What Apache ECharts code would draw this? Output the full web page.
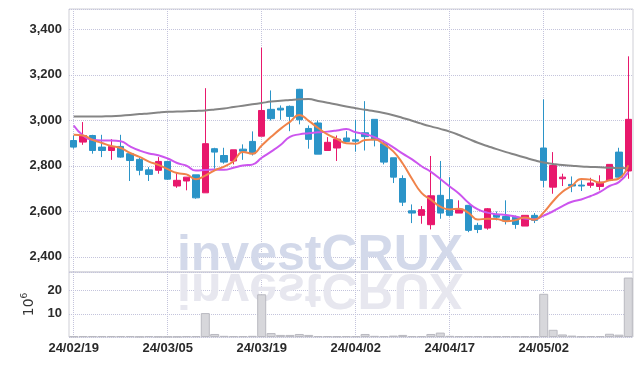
<!DOCTYPE html>
<html>
<head>
<meta charset="utf-8">
<script src="https://cdn.jsdelivr.net/npm/echarts@6/dist/echarts.min.js"></script>
<style>
html,body{margin:0;padding:0;background:#fff;}
#c{width:642px;height:366px;}
</style>
</head>
<body>
<div id="c"></div>
<script>
// Trading dates (categories)
const dates = [
'24/02/19','24/02/20','24/02/21','24/02/22','24/02/23','24/02/26','24/02/27','24/02/28','24/02/29','24/03/04',
'24/03/05','24/03/06','24/03/07','24/03/08','24/03/11','24/03/12','24/03/13','24/03/14','24/03/15','24/03/18',
'24/03/19','24/03/20','24/03/21','24/03/22','24/03/25','24/03/26','24/03/27','24/03/28','24/03/29','24/04/01',
'24/04/02','24/04/03','24/04/04','24/04/05','24/04/08','24/04/09','24/04/11','24/04/12','24/04/15','24/04/16',
'24/04/17','24/04/18','24/04/19','24/04/22','24/04/23','24/04/24','24/04/25','24/04/26','24/04/29','24/04/30',
'24/05/02','24/05/03','24/05/07','24/05/08','24/05/09','24/05/10','24/05/13','24/05/14','24/05/16','24/05/17'
];
// OHLC values
const openP = [2911,2904,2933,2882,2867,2885,2853,2828,2782,2780,
               2819,2711,2733,2760,2681,2875,2845,2821,2873,2907,
               2930,3048,3053,3061,3136,2964,2988,2867,2878,2922,
               2914,2945,3004,2897,2835,2744,2602,2582,2541,2670,
               2651,2592,2626,2538,2526,2586,2577,2574,2535,2582,
               2878,2706,2743,2718,2715,2714,2709,2736,2860,2777];
const closeP = [2882,2933,2867,2867,2885,2838,2823,2780,2762,2819,
                2741,2736,2750,2659,2897,2860,2816,2870,2864,2853,
                3043,3007,3045,3017,3002,2916,2851,2903,2917,2907,
                2908,2928,2914,2816,2750,2640,2592,2607,2668,2592,
                2582,2608,2516,2520,2611,2574,2557,2542,2582,2560,
                2736,2801,2750,2711,2711,2724,2728,2806,2750,3004];
const lowP = [2875,2892,2853,2838,2826,2835,2733,2758,2733,2765,
              2738,2703,2692,2655,2681,2787,2809,2806,2826,2845,
              2930,2999,3002,2952,2982,2875,2851,2867,2821,2904,
              2862,2867,2885,2806,2724,2623,2548,2545,2520,2567,
              2577,2592,2508,2504,2519,2560,2542,2523,2535,2548,
              2706,2677,2711,2684,2689,2703,2692,2736,2747,2743];
const highP = [2933,2992,2936,2936,2917,2936,2856,2835,2794,2838,
               2822,2772,2750,2760,3141,2879,2879,2870,2894,2951,
               3319,3131,3065,3065,3138,2977,2999,2926,2933,2952,
               3001,3084,3004,2911,2835,2758,2630,2623,2843,2821,
               2750,2648,2626,2549,2614,2599,2648,2581,2582,2592,
               3092,2860,2765,2753,2736,2747,2758,2806,2879,3281];
// Moving averages
const ma5 = [2936,2933,2914,2900,2887,2878,2856,2839,2818,2804,
             2785,2768,2762,2741,2757,2780,2796,2820,2861,2853,
             2889,2927,2962,2993,3023,2997,2966,2938,2918,2899,
             2897,2913,2915,2895,2863,2810,2742,2681,2651,2620,
             2608,2611,2593,2564,2567,2566,2556,2561,2573,2563,
             2595,2644,2686,2712,2742,2739,2725,2736,2744,2802];
const ma10 = [2977,2933,2914,2911,2911,2908,2885,2867,2854,2846,
              2832,2812,2800,2779,2781,2783,2782,2791,2801,2805,
              2835,2862,2891,2927,2938,2943,2947,2950,2955,2961,
              2947,2939,2926,2906,2881,2853,2828,2798,2773,2742,
              2709,2677,2637,2608,2594,2587,2584,2577,2568,2565,
              2581,2600,2623,2642,2652,2667,2685,2711,2728,2772];
const ma60 = [3016,3016,3016,3017,3018,3020,3023,3027,3030,3034,
              3037,3038,3040,3041,3043,3047,3052,3058,3064,3070,
              3076,3082,3086,3089,3092,3093,3085,3077,3069,3060,
              3053,3046,3040,3032,3022,3010,2998,2985,2973,2962,
              2950,2935,2918,2901,2887,2873,2860,2848,2836,2824,
              2814,2808,2803,2800,2797,2795,2793,2791,2790,2789];
// Volume (millions)
const volume = [0.3,0.4,0.4,0.4,0.4,0.4,0.4,0.2,0.4,0.2,
                0.2,0.2,0.4,0.4,10.3,1.3,0.5,0.4,0.4,0.5,
                18.4,1.7,0.9,0.9,1.3,0.9,0.4,0.4,0.3,0.4,
                0.4,1.3,0.5,0.4,0.6,0.9,0.4,0.4,1.3,1.9,
                0.5,0.4,0.4,0.4,0.3,0.3,0.4,0.3,0.3,0.3,
                18.6,3.1,1.1,0.6,0.3,0.4,0.4,1.4,1.0,25.6];

const kData = dates.map((d, i) => [openP[i], closeP[i], lowP[i], highP[i]]);

const UP = '#e8186c', DOWN = '#2b94c8';
const gridLine = {type: 'dotted', color: '#c4c4dc', width: 1};
const labelFont = {fontFamily: '"Liberation Sans", Arial, sans-serif', fontSize: 13, fontWeight: 'bold', color: '#2a2a2a'};

const chart = echarts.init(document.getElementById('c'), null, {renderer: 'canvas'});
const wmFont = 'bold 50px "Liberation Sans", Arial, sans-serif';
chart.setOption({
  animation: false,
  backgroundColor: '#fff',
  grid: [
    {left: 69, top: 9, width: 564, height: 263, show: true, borderColor: '#cfcfd6', borderWidth: 1},
    {left: 69, top: 272, width: 564, height: 65, show: true, borderColor: '#cfcfd6', borderWidth: 1}
  ],
  graphic: [
    {type: 'text', x: 320, y: 272, z: 1, silent: true,
     style: {text: 'investCRUX', font: wmFont, fill: '#d3d9ea', textAlign: 'center', verticalAlign: 'middle', y: -16}},
    {type: 'text', x: 320, y: 272, scaleY: -1, z: 1, silent: true,
     style: {text: 'investCRUX', font: wmFont, fill: '#e7e7ef', textAlign: 'center', verticalAlign: 'middle', y: -16}}
  ],
  xAxis: [
    {type: 'category', gridIndex: 0, data: dates, boundaryGap: true,
     axisLine: {show: false}, axisTick: {show: false}, axisLabel: {show: false},
     splitLine: {show: true, interval: 9, alignWithLabel: true, lineStyle: gridLine}},
    {type: 'category', gridIndex: 1, data: dates, boundaryGap: true,
     axisLine: {show: false}, axisTick: {show: false, alignWithLabel: true},
     axisLabel: Object.assign({interval: 9, margin: 5}, labelFont),
     splitLine: {show: true, interval: 9, alignWithLabel: true, lineStyle: gridLine}}
  ],
  yAxis: [
    {type: 'value', gridIndex: 0, min: 2333, max: 3489, splitNumber: 5, scale: true,
     axisLine: {show: false}, axisTick: {show: false},
     axisLabel: Object.assign({showMinLabel: false, showMaxLabel: false, margin: 7,
       formatter: v => Number(v).toLocaleString('en-US')}, labelFont),
     splitLine: {show: true, lineStyle: gridLine}},
    {type: 'value', gridIndex: 1, min: 0, max: 28, interval: 10,
     axisLine: {show: false}, axisTick: {show: false},
     axisLabel: Object.assign({showMinLabel: false, showMaxLabel: false, margin: 7}, labelFont),
     splitLine: {show: true, lineStyle: gridLine},
     name: '{a|10}{b|6}', nameLocation: 'middle', nameRotate: 90, nameGap: 26,
     nameTextStyle: {rich: {
       a: {fontFamily: '"DejaVu Sans", sans-serif', fontSize: 14, color: '#333'},
       b: {fontFamily: '"DejaVu Sans", sans-serif', fontSize: 9, color: '#333', padding: [0, 0, 9, 0]}
     }}}
  ],
  series: [
    {type: 'candlestick', xAxisIndex: 0, yAxisIndex: 0, data: kData, z: 3,
     barWidth: 7,
     itemStyle: {color: UP, color0: DOWN, borderColor: UP, borderColor0: DOWN, borderWidth: 1}},
    {type: 'line', name: 'MA60', xAxisIndex: 0, yAxisIndex: 0, data: ma60, smooth: true, showSymbol: false, z: 4,
     lineStyle: {color: '#858585', width: 2}},
    {type: 'line', name: 'MA10', xAxisIndex: 0, yAxisIndex: 0, data: ma10, smooth: true, showSymbol: false, z: 4,
     lineStyle: {color: '#cc55ee', width: 2}},
    {type: 'line', name: 'MA5', xAxisIndex: 0, yAxisIndex: 0, data: ma5, smooth: true, showSymbol: false, z: 5,
     lineStyle: {color: '#f0834a', width: 2}},
    {type: 'bar', xAxisIndex: 1, yAxisIndex: 1, data: volume, barCategoryGap: '4%', z: 3,
     itemStyle: {color: '#d7d7db', borderColor: '#b9b9c0', borderWidth: 1}}
  ]
});
</script>
</body>
</html>
